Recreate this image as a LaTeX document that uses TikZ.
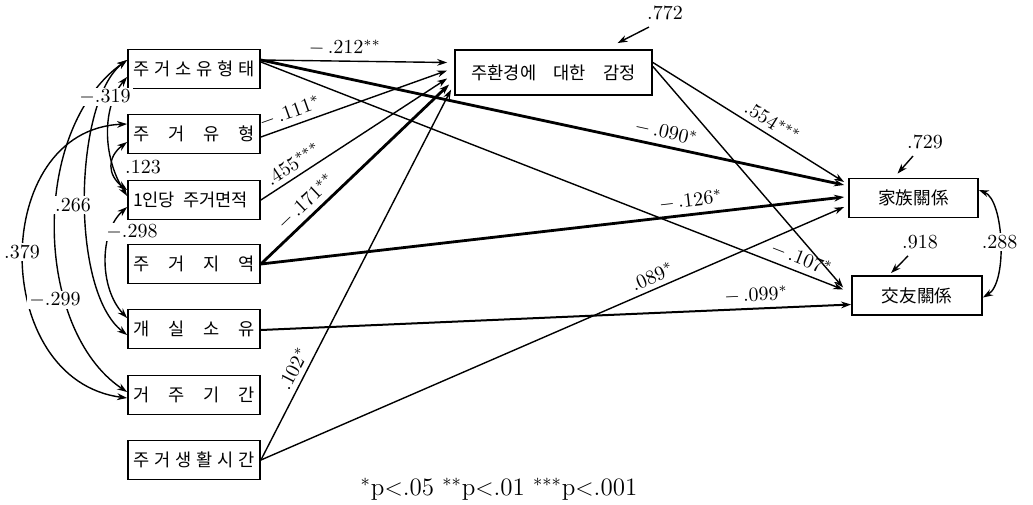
\documentclass[tikz,border=0pt]{standalone}
\usepackage{fontspec}
\newfontfamily\kr{Noto Sans CJK KR}
\usetikzlibrary{arrows.meta}
\newcommand{\vtext}[1]{\makebox[61pt][s]{#1}}
\begin{document}
\begin{tikzpicture}[x=0.5pt, y=-0.5pt, >={Stealth[length=5pt,width=3.4pt]},
  font=\fontsize{10}{12}\selectfont,
  var/.style={draw,line width=0.9pt,minimum width=66pt,minimum height=19.5pt,inner sep=2pt,
    font=\kr\fontsize{8.8}{10}\selectfont},
  path/.style={->,line width=0.7pt}, strong/.style={->,line width=1.4pt},
  corr/.style={<->,line width=0.7pt},
  coef/.style={sloped,above,inner sep=2.5pt}, lab/.style={fill=white,inner sep=1pt}]
\useasboundingbox (0,0) rectangle (1033,504);
% exogenous variables
\node[var] (own) at (194,69) {\vtext{주\hfill 거\hfill 소\hfill 유\hfill 형\hfill 태}};
\node[var] (type) at (194,134) {\vtext{주\hfill 거\hfill 유\hfill 형}};
\node[var] (area) at (194,200) {\vtext{1인당\hspace{4pt}주거면적\hfill}};
\node[var] (region) at (194,264) {\vtext{주\hfill 거\hfill 지\hfill 역}};
\node[var] (room) at (194,329) {\vtext{개\hfill 실\hfill 소\hfill 유}};
\node[var] (period) at (194,395) {\vtext{거\hfill 주\hfill 기\hfill 간}};
\node[var] (time) at (194,460) {\vtext{주\hfill 거\hfill 생\hfill 활\hfill 시\hfill 간}};
% mediator and outcomes
\node[var,minimum width=98.5pt,minimum height=22.5pt] (emo) at (553.5,72.5)
  {\makebox[82pt][s]{주환경에\hfill 대한\hfill 감정}};
\node[var,minimum width=64.5pt] (family) at (913.5,198) {家族關係};
\node[var,minimum width=65pt] (friend) at (917,295.5) {交友關係};

\draw[path] ([yshift=4.5pt]own.east) -- node[coef,pos=.45] (c212) {$-$\,.212$^{**}$} ([xshift=-3.5pt,yshift=5pt]emo.west);
\draw[path] ([yshift=-1.5pt]type.east) -- node[coef,pos=.18] (c111) {$-$\,.111$^{*}$} ([xshift=-3.5pt,yshift=1pt]emo.west);
\draw[path] (area.east) -- node[coef,pos=.21] (c455) {.455$^{***}$} ([xshift=-3.5pt,yshift=-3pt]emo.west);
\draw[strong] (region.east) -- node[coef,pos=.29] (c171) {$-$\,.171$^{**}$} ([xshift=-2.5pt,yshift=-6pt]emo.west);
\draw[path] (time.east) -- node[coef,pos=.23] (c102) {.102$^{*}$} ([xshift=-1.5pt,yshift=-8.5pt]emo.west);

\draw[path] ([yshift=5pt]emo.east) -- node[coef,pos=.59] (c554) {.554$^{***}$} ([xshift=-2pt,yshift=8pt]family.west);
\draw[path] ([yshift=3pt]emo.east) -- ([xshift=-4pt,yshift=4pt]friend.west);
\draw[strong] ([yshift=4.5pt]own.east) -- node[coef,pos=.69] (c090) {$-$\,.090$^{*}$} ([xshift=-2pt,yshift=6.5pt]family.west);
\draw[path] ([yshift=3.5pt]own.east) -- node[coef,pos=.92] (c107) {$-$\,.107$^{*}$} ([xshift=-4pt,yshift=3pt]friend.west);
\draw[strong] (region.east) -- node[coef,pos=.74] (c126) {$-$\,.126$^{*}$} ([xshift=-2pt,yshift=0.5pt]family.west);
\draw[path] (time.east) -- node[coef,pos=.68] (c089) {.089$^{*}$} ([xshift=-2pt,yshift=-4.5pt]family.west);
\draw[->,line width=1pt] ([yshift=-0.5pt]room.east) -- node[coef,pos=.84] (c099) {$-$\,.099$^{*}$} ([yshift=-4.5pt]friend.west);

% residuals
\node (r772) at (665,13) {.772};
\node (r729) at (925,142) {.729};
\node (r918) at (920,242) {.918};
\draw[path] ([xshift=-8pt]r772.south) -- ([xshift=32pt,yshift=3pt]emo.north);
\draw[path] ([xshift=-6pt]r729.south) -- ([xshift=-8pt,yshift=2pt]family.north);
\draw[path] ([xshift=-6pt]r918.south) -- ([xshift=-13pt,yshift=1pt]friend.north);
\draw[corr] ([yshift=4pt]family.east) .. controls +(25,10) and +(25,-15) .. ([yshift=-1pt]friend.east)
  node[pos=.5,lab] (r288) {.288};

% correlations among the housing variables
\draw[corr] ([yshift=4.5pt]own.west) .. controls +(-53,40) and +(-58,-45) .. ([yshift=-3pt]room.west);
\draw[corr] ([yshift=4.5pt]own.west) .. controls +(-98,70) and +(-93,-62) .. ([yshift=1.5pt]period.west);
\draw[corr] ([yshift=-4pt]own.west) .. controls +(-25,30) and +(-25,-40) .. ([yshift=2pt]area.west);
\draw[corr] ([yshift=-4pt]type.west) .. controls +(-20,15) and +(-20,-15) .. ([yshift=5pt]area.west);
\draw[corr] ([yshift=-3.5pt]area.west) .. controls +(-28,25) and +(-28,-30) .. ([yshift=5.5pt]room.west);
\draw[corr] ([yshift=5pt]type.west) .. controls +(-138,6) and +(-138,-18) .. ([yshift=-1.5pt]period.west);
\node[lab] (k319) at (105,97) {$-$.319};
\node[lab] (k123) at (143,167) {.123};
\node[lab] (k266) at (73,205) {.266};
\node[lab] (k298) at (132,232) {$-$.298};
\node[lab] (k379) at (22,252) {.379};
\node[lab] (k299) at (55,300) {$-$.299};

\node[font=\fontsize{12.5}{14}\selectfont] (note) at (499,489) {$^{*}$p$<$.05 $^{**}$p$<$.01 $^{***}$p$<$.001};
\end{tikzpicture}
\end{document}
